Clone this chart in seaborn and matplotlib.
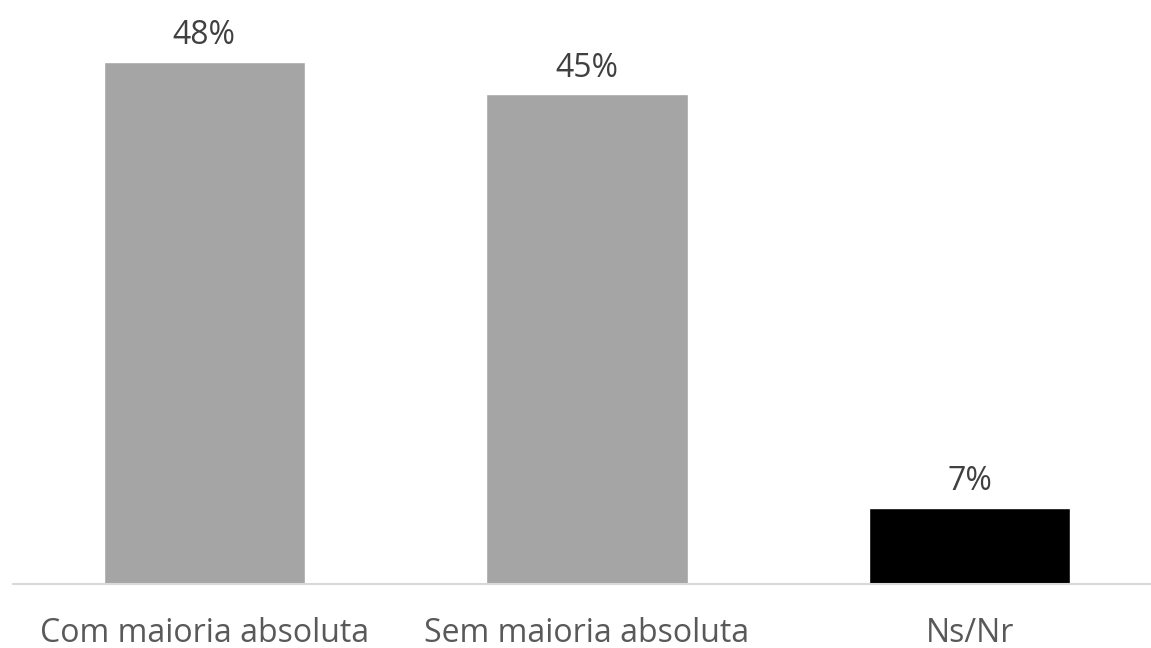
import matplotlib
matplotlib.use("Agg")
import matplotlib.pyplot as plt
import seaborn as sns
import pandas as pd

categories = ["Com maioria absoluta", "Sem maioria absoluta", "Ns/Nr"]
values = [48, 45, 7]
colors = ["#A5A5A5", "#A5A5A5", "#000000"]

sns.set_theme(style="white")
plt.rcParams['font.family'] = ['Open Sans', 'DejaVu Sans']

W, H = 1151, 648
fig = plt.figure(figsize=(W/100, H/100), dpi=100)
base_y = 584
ax = fig.add_axes([13/W, 1 - base_y/H, 1 - 13/W, base_y/H])

df = pd.DataFrame({"cat": categories, "val": values})
sns.barplot(data=df, x="cat", y="val", hue="cat", palette=colors, width=0.526,
            legend=False, ax=ax, saturation=1)

ax.set_xlim(-0.5, 2.474)
ax.set_ylim(0, base_y / 10.88)
for s in ["top", "right", "left"]:
    ax.spines[s].set_visible(False)
ax.spines["bottom"].set_color("#D9D9D9")
ax.spines["bottom"].set_linewidth(1.5)
ax.set_yticks([])
ax.set_xlabel("")
ax.set_ylabel("")
ax.tick_params(axis="x", length=0, pad=24, labelsize=23, labelcolor="#595959")

for i, v in enumerate(values):
    ax.annotate(f"{v}%", (i, v), xytext=(0, 7), textcoords="offset points",
                ha="center", va="bottom", fontsize=23, color="#404040")

fig.savefig("out.png", dpi=100)
